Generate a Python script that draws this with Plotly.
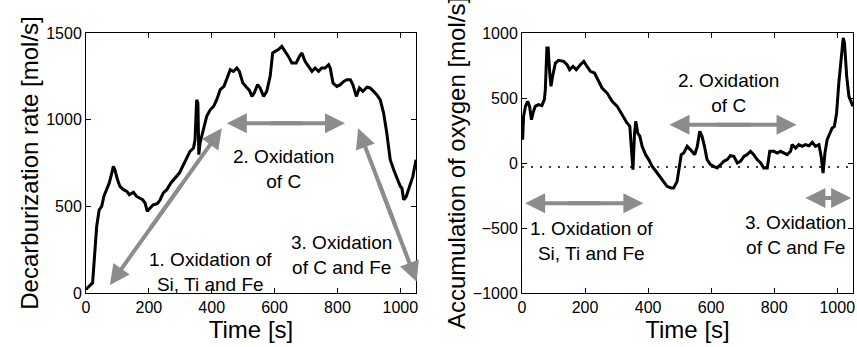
import plotly.graph_objects as go

# ---- data: left panel (decarburization rate) ----
t_decarb = [0, 4, 21, 29, 34, 42, 50, 57, 66, 74, 82, 87, 92, 100, 108, 119, 130, 138, 151, 161,
            170, 180, 188, 195, 204, 214, 227, 236, 246, 257, 270, 283, 297, 310, 321, 331, 342,
            347, 352, 356, 359, 363, 368, 376, 384, 395, 406, 416, 427, 439, 448, 459, 469, 480,
            488, 499, 510, 520, 528, 535, 546, 554, 565, 575, 586, 594, 602, 612, 623, 634, 644,
            655, 669, 679, 687, 697, 708, 719, 729, 740, 750, 761, 772, 777, 786, 798, 809, 820,
            830, 841, 849, 860, 870, 881, 894, 904, 915, 925, 936, 947, 957, 968, 979, 990, 1000,
            1005, 1011, 1019, 1030, 1040, 1050]
decarb = [20, 29, 58, 230, 385, 480, 500, 558, 596, 635, 692, 730, 711, 654, 615, 596, 586, 567,
          581, 557, 548, 538, 519, 471, 490, 509, 515, 538, 577, 596, 635, 663, 692, 740, 779, 817,
          836, 884, 1115, 1096, 798, 865, 903, 961, 1019, 1057, 1077, 1115, 1173, 1192, 1231, 1288,
          1278, 1298, 1278, 1211, 1188, 1169, 1134, 1154, 1202, 1183, 1134, 1163, 1250, 1385, 1394,
          1404, 1423, 1394, 1365, 1327, 1327, 1365, 1385, 1337, 1308, 1279, 1298, 1279, 1298, 1298,
          1317, 1298, 1211, 1192, 1202, 1221, 1231, 1231, 1202, 1134, 1183, 1163, 1188, 1183, 1163,
          1144, 1115, 1038, 923, 769, 711, 663, 615, 606, 538, 557, 615, 673, 769]

# ---- data: right panel (accumulation of oxygen) ----
t_oxy = [2, 5, 11, 18, 24, 30, 35, 42, 52, 63, 71, 74, 79, 83, 88, 92, 97, 106, 116, 132, 143, 151,
         162, 172, 185, 196, 206, 217, 230, 240, 254, 270, 286, 302, 317, 333, 342, 347, 352, 357,
         361, 367, 374, 381, 392, 402, 413, 429, 444, 460, 473, 481, 492, 500, 505, 513, 524, 534,
         548, 556, 564, 571, 579, 587, 598, 608, 619, 630, 640, 651, 661, 672, 683, 693, 704, 714,
         725, 735, 746, 757, 767, 778, 786, 799, 810, 820, 831, 841, 852, 857, 868, 878, 889, 899,
         910, 921, 931, 942, 949, 955, 961, 968, 977, 984, 991, 998, 1005, 1013, 1019, 1023, 1030,
         1037, 1044, 1050]
oxy = [179, 359, 436, 474, 436, 333, 385, 436, 449, 441, 487, 564, 885, 885, 692, 590, 667, 769,
       790, 782, 756, 718, 744, 718, 756, 782, 744, 705, 692, 641, 577, 538, 474, 436, 372, 308, 282,
       128, -51, 231, 321, 231, 205, 128, 64, 26, -26, -77, -128, -179, -192, -192, -141, -26, 64, 77,
       128, 103, 64, 128, 244, 205, 128, 26, -13, -26, -38, -13, 13, 26, 56, 51, 0, 13, 51, 64, 90,
       64, 26, 0, -38, -38, 90, 90, 77, 90, 77, 64, 90, 141, 115, 141, 128, 141, 133, 159, 128, 141,
       51, -77, 77, 179, 231, 269, 282, 385, 615, 846, 962, 923, 667, 513, 474, 436]

oxy_ref_t = [0, 1050]
oxy_ref = [-30, -30]

# ---- annotation content ----
left_labels = ["1. Oxidation of<br>Si, Ti and Fe", "2. Oxidation<br>of C", "3. Oxidation<br>of C and Fe"]
left_label_pos = [(395, 124), (627, 715), (813, 219)]
left_arrows = [((76, 46), (432, 950)), ((448, 979), (824, 979)), ((866, 950), (1052, 65))]

right_labels = ["1. Oxidation of<br>Si, Ti and Fe", "2. Oxidation<br>of C", "3. Oxidation<br>of C and Fe"]
right_label_pos = [(221, -603), (656, 538), (867, -552)]
right_arrows = [((10, -310), (385, -310)), ((468, 295), (871, 295)), ((899, -270), (1044, -270))]

xticks = [0, 200, 400, 600, 800, 1000]

FONT = "Liberation Sans, Arial, Helvetica, sans-serif"
GRAY = "#8c8c8c"

fig = go.Figure()
fig.add_trace(go.Scatter(x=t_decarb, y=decarb, mode="lines",
                         line=dict(color="black", width=3), xaxis="x", yaxis="y",
                         showlegend=False, hoverinfo="skip"))
fig.add_trace(go.Scatter(x=oxy_ref_t, y=oxy_ref, mode="lines",
                         line=dict(color="black", width=1.5, dash="2px,7px"),
                         xaxis="x2", yaxis="y2", showlegend=False, hoverinfo="skip"))
fig.add_trace(go.Scatter(x=t_oxy, y=oxy, mode="lines",
                         line=dict(color="black", width=3), xaxis="x2", yaxis="y2",
                         showlegend=False, hoverinfo="skip"))

W, H = 857, 347
yd = [1 - 293 / H, 1 - 33 / H]

axis_common = dict(showline=True, linecolor="black", linewidth=1, mirror="ticks",
                   ticks="inside", ticklen=5, tickcolor="black", showgrid=False,
                   zeroline=False, tickfont=dict(size=16, color="black", family=FONT),
                   automargin=False)

TITLE_SIZE = 24

fig.update_layout(
    width=W, height=H,
    margin=dict(l=0, r=0, t=0, b=0),
    paper_bgcolor="white", plot_bgcolor="white",
    font=dict(family=FONT, color="black"),
    xaxis=dict(domain=[86 / W, 416 / W], range=[0, 1050], tickvals=xticks,
               title=dict(text="Time [s]", font=dict(size=TITLE_SIZE), standoff=0), anchor="y",
               **axis_common),
    yaxis=dict(domain=yd, range=[0, 1500], tickvals=[0, 500, 1000, 1500],
               title=dict(text="Decarburization rate [mol/s]", font=dict(size=TITLE_SIZE), standoff=0),
               anchor="x", **axis_common),
    xaxis2=dict(domain=[522 / W, 853 / W], range=[0, 1050], tickvals=xticks,
                title=dict(text="Time [s]", font=dict(size=TITLE_SIZE), standoff=0), anchor="y2",
                **axis_common),
    yaxis2=dict(domain=yd, range=[-1000, 1000], tickvals=[-1000, -500, 0, 500, 1000],
                title=dict(text="Accumulation of oxygen [mol/s]", font=dict(size=TITLE_SIZE), standoff=0),
                anchor="x2", **axis_common),
)

annotations = []
for (xr, yr), labels, positions, arrows in [
    (("x", "y"), left_labels, left_label_pos, left_arrows),
    (("x2", "y2"), right_labels, right_label_pos, right_arrows),
]:
    for txt, (px, py) in zip(labels, positions):
        annotations.append(dict(x=px, y=py, xref=xr, yref=yr, text=txt, showarrow=False,
                                font=dict(size=19, color="black", family=FONT),
                                align="center"))
    for (x0, y0), (x1, y1) in arrows:
        # double-headed arrow drawn as two overlapping halves, each with one head
        for (ex, ey), f in [((x0, y0), 0.65), ((x1, y1), 0.35)]:
            tx, ty = x0 + f * (x1 - x0), y0 + f * (y1 - y0)
            annotations.append(dict(x=ex, y=ey, ax=tx, ay=ty, xref=xr, yref=yr,
                                    axref=xr, ayref=yr, text="", showarrow=True,
                                    arrowhead=2, arrowsize=1.0, arrowwidth=4,
                                    arrowcolor=GRAY, standoff=0, startstandoff=0))
fig.update_layout(annotations=annotations)

fig.write_html("out.html", config={"displayModeBar": False},
               post_script="document.body.style.margin='0px';document.body.style.overflow='hidden';")
